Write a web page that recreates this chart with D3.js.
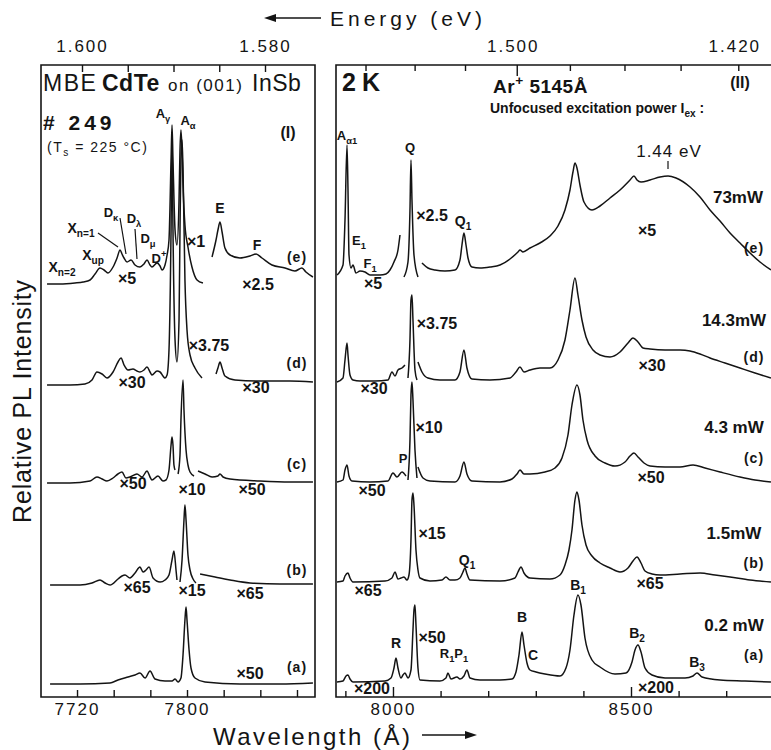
<!DOCTYPE html>
<html>
<head>
<meta charset="utf-8">
<script src="https://cdn.jsdelivr.net/npm/d3@7"></script>
<style>
  body { margin: 0; background: #fff; }
  svg { display: block; }
  text { font-family: "Liberation Sans", Arial, sans-serif; fill: #141414; }
</style>
</head>
<body>
<div id="chart"></div>
<script>
// ---------- data: [wavelength (Å), relative intensity incl. offset] ----------
// panel (I)  MBE CdTe
var leftE1 = [[7698.2,413],[7707.6,413],[7718.5,414],[7724.4,415],[7729.5,417],[7733.1,423],[7736.7,429],[7739.6,427],[7742.5,424],[7746.2,430],[7749.1,439],[7751.3,447],[7752.7,443],[7754.2,439],[7756.4,435],[7759.3,437],[7762.2,432],[7765.8,430],[7768.7,433],[7770.9,437],[7773.1,432],[7774.5,430],[7778.2,434],[7780.4,431],[7781.8,427],[7784,432],
  [7785.5,442],[7786.9,457],[7788.4,537],[7789.1,572],[7789.8,537],[7791.3,467],[7792.7,452],[7794.2,497],[7794.9,547],[7795.6,567],[7796.4,547],[7797.1,512],[7798.5,472],[7800.7,450],[7803.6,430],[7807.3,417],[7811.6,414]];
var leftE2 = [[7818.2,440],[7821.1,457],[7822.5,467],[7824,475],[7825.5,465],[7827.6,449],[7831.3,442],[7838.5,439],[7845.8,441],[7850.2,443],[7854.5,439],[7861.8,432],[7871.3,429],[7878.5,426],[7883.6,429],[7886.5,425],[7891.6,420]];

var leftD1 = [[7698.2,312],[7714.9,312],[7725.8,313],[7730.9,317],[7734.5,325],[7738.2,323],[7741.8,319],[7746.2,325],[7749.8,335],[7752,339],[7754.2,332],[7757.1,327],[7760.7,328],[7763.6,326],[7765.8,325],[7768.7,327],[7770.9,330],[7773.1,325],[7774.5,322],[7778.2,326],[7780.4,325],[7782.5,321],[7784,319],
  [7785.5,322],[7786.9,347],[7788.4,467],[7789.1,562],[7789.8,467],[7791.3,357],[7792.7,335],[7794.2,377],[7794.9,467],[7795.6,537],[7796.4,557],[7797.1,527],[7798.5,417],[7800,367],[7802.2,342],[7805.8,329],[7810.9,319]];
var leftD2 = [[7821.1,323],[7822.5,329],[7824,335],[7825.5,329],[7827.6,321],[7834.9,317],[7853.1,316],[7874.9,316],[7891.6,315]];

var leftC1 = [[7698.2,214],[7714.9,214],[7729.5,216],[7734.5,220],[7738.2,218],[7741.8,216],[7746.2,219],[7749.8,223],[7752.7,225],[7755.6,219],[7758.5,220],[7763.6,223],[7767.3,220],[7770.9,226],[7773.1,220],[7774.5,217],[7778.9,221],[7782.5,216],[7784.7,217],[7786.9,227],[7788.4,252],[7789.1,260],[7789.8,252],[7790.5,232],[7791.3,227]];
var leftC2 = [[7793.5,223],[7794.9,242],[7795.6,277],[7797.1,317],[7797.8,287],[7799.3,247],[7800.7,232],[7802.2,225],[7805.1,221]];
var leftC3 = [[7808,226],[7813.1,223],[7818.2,220],[7822.5,221],[7824,223],[7826.2,220],[7831.3,218],[7853.1,216],[7874.9,215],[7891.6,215]];

var leftB1 = [[7700.4,112],[7722.2,112],[7730.9,114],[7736.7,117],[7740.4,114],[7744,112],[7749.8,118],[7752.7,121],[7754.9,122],[7758.5,119],[7762.2,124],[7765.8,130],[7768,125],[7770.2,127],[7772.4,130],[7775.3,119],[7780.4,115],[7784,117],[7786.9,122],[7789.1,137],[7790.5,146],[7792,127],[7792.7,117]];
var leftB2 = [[7794.9,115],[7796.4,137],[7797.8,177],[7798.5,192],[7799.3,177],[7800.7,142],[7802.2,127],[7804.4,118],[7806.5,114]];
var leftB3 = [[7809.5,123],[7820.4,120],[7831.3,117],[7845.8,114],[7867.6,113],[7891.6,113]];

var leftA = [[7700.4,13],[7722.2,13],[7744,14],[7749.8,17],[7757.1,20],[7762.2,22],[7765.8,24],[7769.5,19],[7773.1,26],[7776.7,18],[7784,16],[7789.1,16],[7791.3,18],[7793.5,15],[7795.6,19],[7797.1,42],[7798.5,77],[7799.3,90],[7800,77],[7801.5,47],[7802.9,29],[7805.8,19],[7813.1,15],[7838.5,13],[7867.6,13],[7891.6,14]];

// panel (II)  power series
var rightE1 = [[7882.4,422],[7895,432],[7899.2,477],[7903.4,552],[7905.5,507],[7907.6,442],[7911.8,429],[7916,432],[7922.3,424],[7930.7,426],[7941.2,425],[7951.7,422],[7972.7,422],[7985.3,423],[7993.7,427],[8002.1,435],[8010.5,447],[8014.7,462]];
var rightE2 = [[8023.1,420],[8031.5,435],[8035.7,487],[8037.8,537],[8039.9,497],[8044.1,442],[8052.5,420]];
var rightE3 = [[8060.9,434],[8073.5,429],[8088.2,427],[8109.2,426],[8130.2,427],[8140.7,437],[8144.9,452],[8149.1,464],[8153.4,452],[8157.6,439],[8165.9,430],[8182.7,429],[8203.8,430],[8224.8,432],[8245.8,438],[8262.6,445],[8266.8,447],[8273.1,445],[8287.8,449],[8308.8,454],[8329.8,461],[8346.6,471],[8361.3,487],[8371.8,507],[8378.1,525],[8382.3,534],[8386.5,529],[8392.8,512],[8401.2,495],[8418,487],[8434.9,491],[8455.9,499],[8476.9,507],[8497.9,517],[8506.3,521],[8512.6,517],[8521,515],[8540,517],[8561,520],[8577.8,521],[8594.6,519],[8624,510],[8645,500],[8666,487],[8687,476],[8708,464],[8729,454],[8750,444],[8771,435],[8794,427]];

var rightD1 = [[7882.4,315],[7895,319],[7899.2,337],[7903.4,354],[7905.5,342],[7909.7,322],[7916,317],[7930.7,316],[7962.2,316],[7989.5,317],[7997.9,325],[8004.2,321],[8010.5,327],[8018.9,329],[8025.2,332]];
var rightD2 = [[8031.5,319],[8035.7,357],[8037.8,397],[8039.9,402],[8042,377],[8046.2,327],[8050.4,317]];
var rightD3 = [[8052.5,335],[8060.9,325],[8073.5,319],[8098.7,317],[8130.2,317],[8140.7,325],[8149.1,347],[8155.4,329],[8165.9,318],[8203.8,317],[8245.8,319],[8258.4,325],[8266.8,330],[8275.2,325],[8287.8,327],[8308.8,329],[8329.8,329],[8346.6,337],[8361.3,357],[8371.8,387],[8382.3,419],[8388.6,402],[8397,377],[8405.5,360],[8420.2,347],[8434.9,342],[8455.9,340],[8476.9,345],[8493.7,354],[8504.2,359],[8514.7,355],[8525.2,349],[8540,348],[8571.5,347],[8603,347],[8624,346],[8645,343],[8666,339],[8697.5,334],[8729,329],[8760.5,324],[8794,319]];

var rightC1 = [[7882.4,215],[7895,217],[7899.2,227],[7903.4,232],[7907.6,221],[7913.9,216],[7951.7,215],[7989.5,216],[8000,224],[8008.4,220],[8018.9,225],[8027.3,221]];
var rightC2 = [[8031.5,217],[8035.7,257],[8037.8,302],[8039.9,315],[8042,297],[8046.2,247],[8050.4,219]];
var rightC3 = [[8052.5,230],[8063,219],[8077.7,216],[8130.2,215],[8140.7,221],[8149.1,235],[8155.4,223],[8165.9,216],[8224.8,215],[8250,218],[8260.5,223],[8266.8,227],[8275.2,223],[8287.8,223],[8319.3,225],[8340.3,229],[8355,239],[8367.6,262],[8376,292],[8386.5,312],[8392.8,302],[8399.1,277],[8407.6,257],[8424.4,241],[8445.4,234],[8466.4,231],[8487.4,235],[8497.9,241],[8506.3,244],[8514.7,240],[8527.3,234],[8540,231],[8571.5,230],[8603,230],[8630.3,232],[8655.5,229],[8687,225],[8729,220],[8760.5,217],[8794,215]];

var rightB = [[7882.4,115],[7895,116],[7899.2,121],[7905.5,124],[7909.7,119],[7916,115],[7983.2,116],[7997.9,119],[8004.2,125],[8010.5,118],[8016.8,119],[8023.1,120],[8029.4,117],[8033.6,122],[8037.8,157],[8039.9,197],[8042,204],[8044.1,192],[8048.3,147],[8052.5,127],[8056.7,119],[8077.7,116],[8102.9,117],[8111.3,120],[8119.7,117],[8130.2,117],[8140.7,119],[8147,125],[8151.2,129],[8155.4,123],[8161.7,117],[8224.8,116],[8256.3,119],[8262.6,125],[8268.9,130],[8275.2,124],[8287.8,119],[8329.8,118],[8350.8,122],[8361.3,132],[8369.7,147],[8376,167],[8382.3,197],[8386.5,205],[8390.7,197],[8397,172],[8405.5,152],[8418,141],[8434.9,134],[8455.9,129],[8476.9,125],[8493.7,129],[8504.2,136],[8512.6,140],[8521,134],[8529.4,126],[8544.1,123],[8561,122],[8603,123],[8645,124],[8676.5,122],[8708,120],[8750,117],[8794,115]];

var rightA = [[7882.4,15],[7895,16],[7901.3,21],[7905.5,22],[7909.7,18],[7916,15],[7983.2,16],[7995.8,19],[8002.1,29],[8006.3,39],[8010.5,29],[8016.8,19],[8021,22],[8025.2,24],[8031.5,19],[8037.8,27],[8042,67],[8044.1,87],[8046.2,92],[8048.3,72],[8052.5,29],[8056.7,17],[8098.7,16],[8111.3,19],[8115.5,24],[8121.8,18],[8134.4,20],[8140.7,18],[8149.1,21],[8155.4,27],[8161.7,19],[8182.7,17],[8224.8,17],[8250,18],[8258.4,25],[8264.7,42],[8271,65],[8275.2,52],[8281.5,34],[8287.8,27],[8300.4,25],[8319.3,23],[8350.8,21],[8363.4,29],[8371.8,47],[8380.2,82],[8388.6,102],[8394.9,92],[8403.3,59],[8418,37],[8434.9,30],[8466.4,23],[8489.5,24],[8502.1,35],[8508.4,47],[8514.7,52],[8521,45],[8529.4,29],[8544.1,22],[8571.5,19],[8613.5,19],[8630.3,21],[8638.7,24],[8649.2,20],[8687,17],[8739.5,16],[8794,15]];

// axis ticks
var leftWaveTicks = [7720, 7746.67, 7773.33, 7800, 7826.67, 7853.33, 7880];
var leftWaveLabels = [7720, 7800];
var rightWaveTicks = [7900, 8000, 8100, 8200, 8300, 8400, 8500, 8600, 8700, 8800];
var rightWaveLabels = [8000, 8500];
var leftEnergyTicks = [1.600, 1.595, 1.590, 1.585, 1.580];
var leftEnergyLabels = [1.600, 1.580];
var rightEnergyTicks = [1.56, 1.54, 1.52, 1.50, 1.48, 1.46, 1.44, 1.42];
var rightEnergyLabels = [1.500, 1.420];
var hc = 12390; // eV*Å used for the top axis of panel (II)

// ---------- scales ----------
var svg = d3.select("#chart").append("svg").attr("width", 771).attr("height", 750);

var yTop = 65, yBottom = 697;
var xL = d3.scaleLinear().domain([7693.8, 7893.1]).range([41, 315]);
var xR = d3.scaleLinear().domain([7880.3, 8794.1]).range([336, 771]);
var eL = d3.scaleLinear().domain([1.600, 1.580]).range([82, 265]);
var yI = d3.scaleLinear().domain([0, 632]).range([yBottom, yTop]);

var ink = "#141414";

function has(list, v) { return list.some(function (d) { return Math.abs(d - v) < 1e-6; }); }

// frames
svg.append("path")
  .attr("d", `M41,${yTop}H315V${yBottom}H41Z`)
  .attr("fill", "none").attr("stroke", ink).attr("stroke-width", 1.6);
svg.append("path")
  .attr("d", `M771,${yTop}H336V${yBottom}H771`)
  .attr("fill", "none").attr("stroke", ink).attr("stroke-width", 1.6);

// axes
function styleAxis(g, fs) {
  g.select(".domain").remove();
  g.selectAll(".tick line").attr("stroke", ink).attr("stroke-width", 1.4);
  g.selectAll(".tick text")
    .attr("fill", ink)
    .attr("font-size", fs)
    .attr("letter-spacing", 2)
    .attr("font-family", "Liberation Sans, Arial, sans-serif");
}

var gLB = svg.append("g").attr("transform", `translate(0,${yBottom})`)
  .call(d3.axisBottom(xL).tickValues(leftWaveTicks).tickSize(-7).tickPadding(6)
    .tickFormat(function (d) { return has(leftWaveLabels, d) ? d : ""; }));
styleAxis(gLB, 17);

var gRB = svg.append("g").attr("transform", `translate(0,${yBottom})`)
  .call(d3.axisBottom(xR).tickValues(rightWaveTicks).tickSize(-6).tickPadding(6)
    .tickFormat(function (d) { return has(rightWaveLabels, d) ? d : ""; }));
styleAxis(gRB, 17);
gRB.selectAll(".tick line").filter(function (d) { return has(rightWaveLabels, d); }).attr("y2", -10);

var gLT = svg.append("g").attr("transform", `translate(0,${yTop})`)
  .call(d3.axisTop(eL).tickValues(leftEnergyTicks).tickSize(-7).tickPadding(13)
    .tickFormat(function (d) { return has(leftEnergyLabels, d) ? d.toFixed(3) : ""; }));
styleAxis(gLT, 17);

var gRT = svg.append("g").attr("transform", `translate(0,${yTop})`)
  .call(d3.axisTop(xR).tickValues(rightEnergyTicks.map(function (e) { return hc / e; })).tickSize(-6).tickPadding(13)
    .tickFormat(function (l) { var e = hc / l; return has(rightEnergyLabels, e) ? e.toFixed(3) : ""; }));
styleAxis(gRT, 17);
gRT.selectAll(".tick line").filter(function (l) { return Math.abs(hc / l - 1.5) < 1e-6; }).attr("y2", 11);
gRT.selectAll(".tick text").attr("dx", -4);

// spectra
function lineFor(x) {
  return d3.line().x(function (d) { return x(d[0]); }).y(function (d) { return yI(d[1]); }).curve(d3.curveMonotoneX);
}
var leftSegs = [leftE1, leftE2, leftD1, leftD2, leftC1, leftC2, leftC3, leftB1, leftB2, leftB3, leftA];
var rightSegs = [rightE1, rightE2, rightE3, rightD1, rightD2, rightD3, rightC1, rightC2, rightC3, rightB, rightA];

svg.append("g").selectAll("path").data(leftSegs).join("path")
  .attr("d", lineFor(xL))
  .attr("fill", "none").attr("stroke", ink).attr("stroke-width", 1.5).attr("stroke-linejoin", "round");
svg.append("g").selectAll("path").data(rightSegs).join("path")
  .attr("d", lineFor(xR))
  .attr("fill", "none").attr("stroke", ink).attr("stroke-width", 1.5).attr("stroke-linejoin", "round");

// ---------- text ----------
function rich(sel, str, fs) {
  var re = /([_^])\{([^}]*)\}|([^_^]+)/g, m, shift = 0;
  while ((m = re.exec(str))) {
    if (m[3]) {
      sel.append("tspan").attr("dy", -shift).text(m[3]);
      shift = 0;
    } else {
      var s = m[1] === "_" ? fs * 0.3 : -fs * 0.42;
      sel.append("tspan").attr("dy", s - shift).attr("font-size", fs * 0.72).text(m[2]);
      shift = s;
    }
  }
}

// [text, x, y(centre), size, weight, anchor, letter-spacing]
var notes = [
  ["MBE", 43, 83, 23, "normal", "start", 1.5],
  ["CdTe", 102, 83, 23, "bold", "start", 0.5],
  ["on (001)", 168, 85, 17, "normal", "start", 1.5],
  ["InSb", 252, 83, 23, "normal", "start", 0.5],
  ["# 249", 43, 122, 21, "bold", "start", 4],
  ["(T_{s} = 225 °C)", 47, 147, 14, "normal", "start", 1.5],
  ["(I)", 288, 132, 16, "bold"],
  ["A_{γ}", 163, 113, 13, "bold"],
  ["A_{α}", 188, 120, 13, "bold"],
  ["X_{n=2}", 62, 267, 14, "bold"],
  ["X_{up}", 93, 255, 14, "bold"],
  ["X_{n=1}", 81, 228, 14, "bold"],
  ["D_{κ}", 111, 212, 13, "bold"],
  ["D_{λ}", 134, 218, 13, "bold"],
  ["D_{μ}", 148, 238, 13, "bold"],
  ["D^{+}", 159, 258, 13, "bold"],
  ["×1", 196, 241, 16, "bold"],
  ["×5", 127, 278, 16, "bold"],
  ["E", 220, 208, 14, "bold"],
  ["F", 257, 245, 14, "bold"],
  ["(e)", 297, 257, 14, "bold", "middle", 1],
  ["×2.5", 258, 284, 16, "bold"],
  ["×30", 132, 382, 16, "bold"],
  ["×3.75", 209, 345, 16, "bold"],
  ["(d)", 297, 363, 14, "bold", "middle", 1],
  ["×30", 256, 387, 16, "bold"],
  ["×50", 133, 483, 16, "bold"],
  ["×10", 192, 489, 16, "bold"],
  ["×50", 252, 489, 16, "bold"],
  ["(c)", 297, 464, 14, "bold", "middle", 1],
  ["×65", 137, 587, 16, "bold"],
  ["×15", 192, 590, 16, "bold"],
  ["×65", 250, 593, 16, "bold"],
  ["(b)", 297, 570, 14, "bold", "middle", 1],
  ["×50", 250, 673, 16, "bold"],
  ["(a)", 297, 667, 14, "bold", "middle", 1],

  ["2K", 342, 82, 25, "bold", "start", 6],
  ["Ar^{+} 5145Å", 493, 86, 19, "bold", "start", 0.5],
  ["(II)", 740, 82, 16, "bold"],
  ["Unfocused excitation power I_{ex} :", 490, 108, 14, "bold", "start"],
  ["A_{α1}", 347, 135, 13, "bold"],
  ["Q", 410, 147, 13, "bold"],
  ["E_{1}", 359, 240, 13, "bold"],
  ["F_{1}", 370, 263, 13, "bold"],
  ["×5", 373, 283, 16, "bold"],
  ["×2.5", 432, 215, 16, "bold"],
  ["Q_{1}", 463, 221, 14, "bold"],
  ["1.44 eV", 669, 151, 17, "normal", "middle", 1],
  ["73mW", 738, 197, 17, "bold"],
  ["×5", 647, 230, 16, "bold"],
  ["(e)", 754, 248, 14, "bold", "middle", 1],
  ["14.3mW", 734, 320, 17, "bold"],
  ["×3.75", 437, 323, 16, "bold"],
  ["×30", 374, 388, 16, "bold"],
  ["(d)", 754, 357, 14, "bold", "middle", 1],
  ["×30", 652, 365, 16, "bold"],
  ["4.3 mW", 734, 427, 17, "bold"],
  ["×10", 429, 427, 16, "bold"],
  ["P", 403, 458, 13, "bold"],
  ["(c)", 754, 458, 14, "bold", "middle", 1],
  ["×50", 651, 477, 16, "bold"],
  ["×50", 372, 490, 16, "bold"],
  ["1.5mW", 734, 533, 17, "bold"],
  ["×15", 432, 533, 16, "bold"],
  ["Q_{1}", 467, 560, 14, "bold"],
  ["(b)", 754, 563, 14, "bold", "middle", 1],
  ["×65", 368, 590, 16, "bold"],
  ["×65", 650, 583, 16, "bold"],
  ["B_{1}", 578, 585, 14, "bold"],
  ["0.2 mW", 734, 625, 17, "bold"],
  ["B", 522, 617, 14, "bold"],
  ["R", 396, 643, 14, "bold"],
  ["×50", 432, 637, 16, "bold"],
  ["B_{2}", 637, 633, 14, "bold"],
  ["C", 533, 655, 14, "bold"],
  ["R_{1}P_{1}", 454, 653, 13, "bold"],
  ["B_{3}", 697, 662, 14, "bold"],
  ["(a)", 754, 655, 14, "bold", "middle", 1],
  ["×200", 372, 688, 16, "bold"],
  ["×200", 656, 687, 16, "bold"]
];

var gNotes = svg.append("g");
notes.forEach(function (n) {
  var fs = n[3];
  var t = gNotes.append("text")
    .attr("x", n[1]).attr("y", n[2] + fs * 0.36)
    .attr("font-size", fs)
    .attr("font-weight", n[4] || "bold")
    .attr("text-anchor", n[5] || "middle");
  if (n[6]) t.attr("letter-spacing", n[6]);
  rich(t, n[0], fs);
});

// leader lines
var leaders = [[98, 233, 118, 247], [120, 218, 126, 254], [135, 229, 137, 259], [668, 161, 668, 169]];
svg.append("g").selectAll("line").data(leaders).join("line")
  .attr("x1", function (d) { return d[0]; }).attr("y1", function (d) { return d[1]; })
  .attr("x2", function (d) { return d[2]; }).attr("y2", function (d) { return d[3]; })
  .attr("stroke", ink).attr("stroke-width", 1.2);

// axis titles
svg.append("text").attr("x", 330).attr("y", 26)
  .attr("font-size", 21).attr("letter-spacing", 4).text("Energy (eV)");
svg.append("path").attr("d", "M321,18H274").attr("stroke", ink).attr("stroke-width", 1.6);
svg.append("path").attr("d", "M264,18L276,14L276,22Z").attr("fill", ink);

svg.append("text").attr("x", 213).attr("y", 745)
  .attr("font-size", 24).attr("letter-spacing", 2.5).text("Wavelength (Å)");
svg.append("path").attr("d", "M422,735H466").attr("stroke", ink).attr("stroke-width", 1.6);
svg.append("path").attr("d", "M477,735L465,731L465,739Z").attr("fill", ink);

svg.append("text")
  .attr("transform", "translate(31,401) rotate(-90)")
  .attr("text-anchor", "middle")
  .attr("font-size", 25).attr("letter-spacing", 0.8)
  .text("Relative PL Intensity");
</script>
</body>
</html>
